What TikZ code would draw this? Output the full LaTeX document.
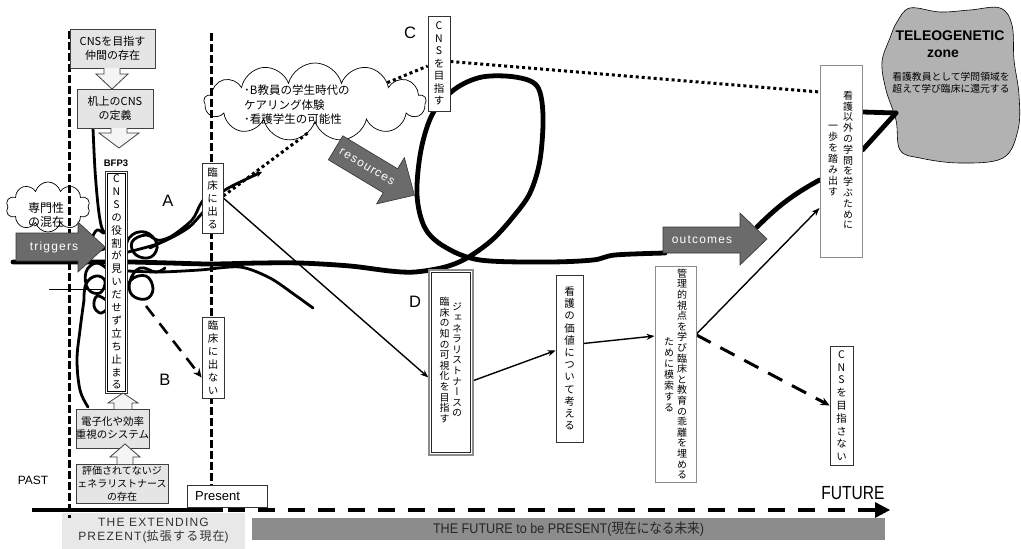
\documentclass[tikz,border=0pt]{standalone}
\usepackage{fontspec}
\setmainfont{Noto Sans CJK JP}
\newfontfamily\vjp[RawFeature=+vert]{Noto Sans CJK JP}
\newfontfamily\arial{Liberation Sans}
\newfontfamily\arialsp[LetterSpace=10]{Liberation Sans}
\newfontfamily\jpsp[LetterSpace=10]{Noto Sans CJK JP}
\newfontfamily\narrow[FakeStretch=0.82]{Liberation Sans}
\newfontfamily\barfont[FakeStretch=0.9]{Liberation Sans}
\newfontfamily\jpnarrow[FakeStretch=0.9]{Noto Sans CJK JP}
\usetikzlibrary{shapes.symbols,arrows.meta,calc}
\pgfdeclarelayer{bg}
\pgfsetlayers{bg,main}
\ExplSyntaxOn
\NewDocumentCommand\vstack{O{12pt}m}
 {\vbox{\baselineskip=#1\relax\lineskiplimit=-\maxdimen\lineskip=0pt
   \tl_map_inline:nn{#2}{\hbox_to_wd:nn{1em}{\hss##1\hss}}}}
\ExplSyntaxOff
\begin{document}
\begin{tikzpicture}[x=1pt,y=-1pt,
  gbox/.style={draw=black!75, fill=black!10, line width=0.7pt, inner sep=0pt, align=center},
  vb/.style={draw=black!80, fill=white, line width=0.7pt, inner sep=0pt},
  gb/.style={draw=black!45, fill=white, line width=1pt, inner sep=0pt},
  vtxt/.style={inner sep=0pt, font=\vjp\fontsize{10.5}{12}\selectfont},
  vsm/.style={inner sep=0pt, font=\vjp\fontsize{10}{11}\selectfont},
  thickl/.style={line width=4.8pt, line cap=round, line join=round},
  tang/.style={line width=2.8pt, line cap=round, line join=round},
  vdash/.style={line width=3pt, dash pattern=on 7.5pt off 3.5pt},
  dotl/.style={line width=3pt, dash pattern=on 3pt off 3pt},
  darr/.style={fill=black!58, draw=black!80, line width=0.6pt},
  larr/.style={fill=black!4, draw=black!75, line width=0.8pt},
  thinarr/.style={line width=1.4pt, -{Stealth[length=8pt,width=6pt]}},
  lbl/.style={font=\arial\fontsize{16.5}{16.5}\selectfont, inner sep=0pt},
]
\useasboundingbox (0,0) rectangle (1021,549);

% ---------------- boxes (main layer) ----------------
\node[gbox, minimum width=85pt, minimum height=39pt, font=\fontsize{11}{13.5}\selectfont] (g1) at (112.5,48.5) {CNSを目指す\\仲間の存在};
\node[gbox, minimum width=76pt, minimum height=39pt, font=\fontsize{11}{13.5}\selectfont] (g2) at (115,108.5) {机上のCNS\\の定義};
\node[gbox, minimum width=71pt, minimum height=39pt, font=\fontsize{10.5}{13}\selectfont] (g3) at (112.5,428.5) {電子化や効率\\重視のシステム};
\node[gbox, minimum width=92pt, minimum height=39pt, font=\fontsize{10}{13}\selectfont] (g4) at (122,483.5) {評価されてないジ\\ェネラリストナース\\の存在};

\node[vb, vtxt, line width=0.8pt, minimum width=22pt, minimum height=222pt] (bfp) at (116.5,282) {\vstack[12.9pt]{CNSの役割が見いだせず立ち止まる}};
\draw[black, line width=0.8pt] ([shift={(2.5pt,-2.5pt)}]bfp.north west) rectangle ([shift={(-2.5pt,2.5pt)}]bfp.south east);
\node[font=\arial\bfseries\fontsize{9.5}{9.5}\selectfont, inner sep=0pt] (bfpl) at (116,163) {BFP3};

\node[vb, vtxt, minimum width=21pt, minimum height=70pt] (rin) at (212.5,198) {\vstack[13pt]{臨床に出る}};
\node[vb, vtxt, minimum width=22pt, minimum height=81pt] (nde) at (213,357.5) {\vstack[13pt]{臨床に出ない}};
\node[vb, vtxt, minimum width=22pt, minimum height=95pt] (cbox) at (439,63.5) {\vstack[12.5pt]{CNSを目指す}};
\node[vb, vtxt, minimum width=23pt, minimum height=119pt] (nai) at (841.5,405.5) {\vstack[12.8pt]{CNSを目指さない}};
\node[vb, vtxt, minimum width=27pt, minimum height=167pt] (kango) at (569.5,358.5) {\vstack[12.2pt]{看護の価値について考える}};

\node[draw=black!45, line width=1.3pt, fill=white, minimum width=44pt, minimum height=185pt, inner sep=0pt] (dbox) at (451,362.5) {};
\draw[black!85, line width=0.7pt] ([shift={(3pt,-3pt)}]dbox.north west) rectangle ([shift={(-3pt,3pt)}]dbox.south east);
\node[vsm] (dr) at (457,360) {\vstack[10.6pt]{ジェネラリストナースの}};
\node[vsm] (dl) at (444.5,360) {\vstack[10.6pt]{臨床の知の可視化を目指す}};

\node[gb, minimum width=41pt, minimum height=216pt] (kanri) at (675.5,374) {};
\node[vsm] (kr) at (682,374) {\vstack[10.6pt]{管理的視点を学び臨床と教育の乖離を埋める}};
\node[vsm] (kl) at (669,375) {\vstack[11pt]{ために模索する}};

\node[gb, minimum width=42pt, minimum height=192pt] (ikai) at (841,161) {};
\node[vsm] (ir) at (848,160) {\vstack[10.8pt]{看護以外の学問を学ぶために}};
\node[vsm] (il) at (833,161) {\vstack[11pt]{一歩を踏み出す}};

% outline block arrows between grey boxes
\draw[larr] (104,68) -- (104,74) -- (96,74) -- (112,89) -- (128,74) -- (120,74) -- (120,68);
\draw[larr] (111,128) -- (111,133) -- (99,133) -- (119,148) -- (139,133) -- (127,133) -- (127,128);
\draw[larr] (114,409) -- (114,403) -- (108,403) -- (123,393) -- (138,403) -- (132,403) -- (132,409);
\draw[larr] (117,464) -- (117,457) -- (110,457) -- (125,444) -- (140,457) -- (133,457) -- (133,464);

% Present / labels
\node[draw=black!80, fill=white, line width=0.7pt, minimum width=80pt, minimum height=22pt, inner sep=0pt] (pres) at (227,496) {};
\node[font=\arial\fontsize{13}{13}\selectfont, anchor=west, inner sep=0pt] (prest) at (195,496) {Present};
\node[font=\arial\fontsize{12}{12}\selectfont, inner sep=0pt] (past) at (33,480) {PAST};
\node[font=\narrow\fontsize{19}{19}\selectfont, inner sep=0pt] (fut) at (853,493) {FUTURE};
\node[lbl] (la) at (168,201) {A};
\node[lbl] (lb) at (165,380) {B};
\node[lbl] (lc) at (410,33) {C};
\node[lbl] (ld) at (415,302) {D};

% ---------------- background layer ----------------
\begin{pgfonlayer}{bg}
\fill[white] (0,0) rectangle (1021,549);
\node[fill=black!9, minimum width=183pt, minimum height=36pt, inner sep=0pt, align=center, text=black!80, font=\arialsp\fontsize{12}{14}\selectfont] (ext) at (153.5,531) {THE EXTENDING\\PREZENT(\jpsp 拡張する現在\arialsp )};
\node[fill=black!45, minimum width=633pt, minimum height=22pt, inner sep=0pt, text=black!85, font=\barfont\fontsize{14}{14}\selectfont] (bar) at (568.5,529) {THE FUTURE to be PRESENT({\jpnarrow 現在になる未来})};
\coordinate (t0) at (32,510); \coordinate (t1) at (223,510);
\coordinate (t2) at (228,510); \coordinate (t3) at (875,510);
\draw[line width=4pt] (t0) -- (t1);
\draw[line width=4pt, dash pattern=on 17pt off 13pt] (t2) -- (t3);
\fill (875,502) -- (890,510) -- (875,518) -- cycle;

\draw[vdash] (69,31) -- (69,518);
\draw[vdash] (211,33) -- (211,485);

\node[cloud, draw, cloud puffs=10, cloud ignores aspect, minimum width=84pt, minimum height=50pt, line width=0.7pt] (c1) at (48,207) {};
\node[cloud, draw, cloud puffs=13, cloud ignores aspect, minimum width=222pt, minimum height=78pt, line width=0.7pt] (c2) at (315,102) {};

\draw[fill=black!30, line width=0.6pt] plot[smooth cycle, tension=0.6] coordinates {(897,22) (910,8) (940,12) (970,10) (1000,8) (1012,25) (1014,60) (1019,95) (1018,130) (1003,158) (960,163) (920,158) (900,150) (896,120) (886,90) (882,62) (890,38)};

% dotted
\draw[dotl] ([yshift=2pt]rin.east) -- (c2.258);
\draw[dotl] (c2.15) -- ([yshift=-2.5pt]cbox.west);
\draw[dotl] ([yshift=2pt]cbox.east) -- ([yshift=69pt]ikai.west);

% main thick line with the loop
\draw[thickl] plot[smooth, tension=0.55] coordinates {(13,262) (60,262) (100,262) (130,262) (170,263) (211,264) (260,263) (300,263) (350,266) (390,271) (415,272) (445,267) (467,258) (492,240) (513,217) (530,193) (540,160) (543,115) (537,86) (515,77) (482,77) (455,89) (433,113) (421,150) (417,195) (425,228) (445,247) (480,260) (547,262) (593,260) (615,255) (665,253)};
\draw[thickl] (757,227) to[bend left=8] ([yshift=-19pt]ikai.west);
\coordinate (bl) at (896,113);
\draw[thickl] ([yshift=11pt]ikai.east) -- (bl);
\draw[thickl] ([yshift=49pt]ikai.east) -- (bl);

% tangle (scribbled loops)
\draw[tang] plot[smooth, tension=0.6] coordinates {(93,128) (95,170) (98,205) (101,225) (104,233) (97,230) (92,240) (97,250) (106,248)};
\draw[tang] plot[smooth, tension=0.7] coordinates {(124,260) (129,238) (145,232) (157,244) (151,257) (136,255) (132,242) (146,235) (162,240) (190,226)};
\draw[tang] plot[smooth, tension=0.7] coordinates {(124,302) (130,281) (146,276) (153,289) (146,299) (132,295) (130,281) (140,268) (156,272) (165,268)};
\draw[tang] plot[smooth, tension=0.7] coordinates {(106,268) (96,263) (86,272) (88,289) (100,293) (105,281) (96,276) (86,284) (84,300)};
\draw[tang] plot[smooth, tension=0.7] coordinates {(106,300) (97,296) (94,306) (100,313) (106,310)};
\draw[tang] plot[smooth, tension=0.6] coordinates {(84,300) (80,330) (77,360) (80,390) (88,407)};
\draw[tang, -{Stealth[length=6pt,width=6pt]}] plot[smooth] coordinates {(128,252) (160,243) (188,228) (205,210) (225,190) (262,172)};
\draw[tang] plot[smooth] coordinates {(150,248) (172,236) (192,220) (200,205) (206,196)};
\draw[tang] plot[smooth] coordinates {(128,271) (160,272) (200,270) (240,267) (270,278) (295,295) (313,308)};
\coordinate (hl0) at (49,289); \coordinate (hl1) at (105,289);
\draw[line width=1pt] (hl0) -- (hl1);

% connectors
\coordinate (bstart) at (146,306);
\draw[line width=2.6pt, dash pattern=on 13pt off 9pt, -{Stealth[length=9pt,width=8pt]}] (bstart) -- ([yshift=-20pt]nde.west);
\draw[thinarr] (rin.east) -- ([yshift=-15pt]dbox.west);
\draw[thinarr] ([yshift=-18pt]dbox.east) -- ([yshift=8pt]kango.west);
\draw[thinarr] ([yshift=15pt]kango.east) -- ([yshift=38pt]kanri.west);
\draw[thinarr] ([yshift=40pt]kanri.east) -- ([yshift=-47pt]ikai.west);
\draw[line width=3pt, dash pattern=on 16pt off 11pt, -{Stealth[length=9pt,width=8pt]}] ([yshift=39pt]kanri.east) -- (nai.west);
\end{pgfonlayer}

% cloud texts
\node[font=\fontsize{12}{14.5}\selectfont, align=center, inner sep=0pt] (c1t) at (46,215) {専門性\\の混在};
\node[align=left, anchor=west, font=\fontsize{11.5}{14.5}\selectfont, inner sep=0pt] (c2t) at (244,105) {･B教員の学生時代の\\ケアリング体験\\･看護学生の可能性};

% blob texts
\node[font=\arial\bfseries\fontsize{14}{14}\selectfont, inner sep=0pt] (tz1) at (950,36) {TELEOGENETIC};
\node[font=\arial\bfseries\fontsize{14}{14}\selectfont, inner sep=0pt] (tz2) at (943,54) {zone};
\node[font=\fontsize{9.8}{12.5}\selectfont, align=center, inner sep=0pt] (tz3) at (951,83) {看護教員として学問領域を\\超えて学び臨床に還元する};

% dark block arrows
\draw[darr] (16,233) -- (78,233) -- (78,222) -- (105,247) -- (78,272) -- (78,261) -- (16,261) -- cycle;
\node[text=white, font=\arialsp\fontsize{12}{12}\selectfont, inner sep=0pt] (trg) at (54,247) {triggers};
\draw[darr] (663,227) -- (740,227) -- (740,213) -- (767,239) -- (740,265) -- (740,253) -- (663,253) -- cycle;
\node[text=white, font=\arialsp\fontsize{12}{12}\selectfont, inner sep=0pt] (out) at (702,240) {outcomes};
\begin{scope}[shift={(375,171.5)}, rotate=-31]
\draw[darr] (-46,-14) -- (18,-14) -- (18,-27) -- (46,0) -- (18,27) -- (18,14) -- (-46,14) -- cycle;
\end{scope}
\node[rotate=-31, text=white, font=\arialsp\fontsize{12}{12}\selectfont, inner sep=0pt] (res) at (367,167) {resources};
\end{tikzpicture}
\end{document}
